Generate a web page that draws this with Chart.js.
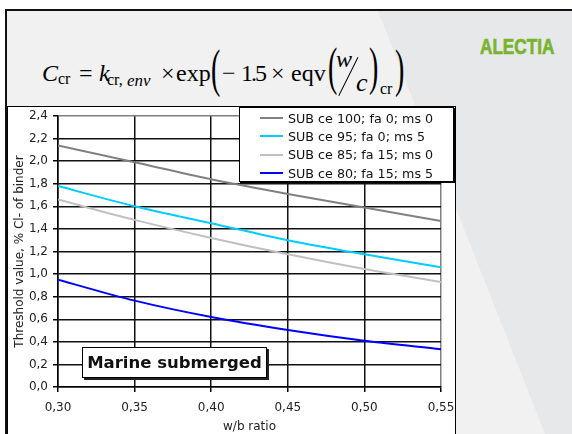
<!DOCTYPE html>
<html>
<head>
<meta charset="utf-8">
<script src="https://cdn.jsdelivr.net/npm/chart.js@4/dist/chart.umd.min.js"></script>
<style>
  html, body { margin: 0; padding: 0; }
  body { width: 572px; height: 434px; position: relative; overflow: hidden; background: #fff; font-family: "DejaVu Sans", Verdana, sans-serif; }
  #slide { position: absolute; left: 5px; top: 9px; right: 0; bottom: 0; background: #e7e8ea; border-left: 2px solid #111; border-top: 2px solid #111; }
  #light { position: absolute; left: 0; top: 0; width: 100%; height: 100%; background: #f1f1f2; clip-path: polygon(0 0, 371px 0, 538px 423px, 0 423px); }
  .f { position: absolute; font-family: "Liberation Serif", "Times New Roman", serif; line-height: 1; white-space: pre; color: #000; }
  .i { font-style: italic; }
  .p { font-size: 28px; transform: scaleY(1.9); transform-origin: left top; }
  #slash { position: absolute; left: 347.9px; top: 54.75px; width: 1.2px; height: 42.5px; background: #000; transform: rotate(26.6deg); }
  #logo { position: absolute; left: 480px; top: 36px; font: bold 22px "Liberation Sans", Arial, sans-serif; line-height: 1; color: #79b42e; transform: scaleX(0.78); transform-origin: left top; -webkit-text-stroke: 0.7px #79b42e; }
  #box { position: absolute; left: 7px; top: 106px; width: 447px; height: 340px; background: #fff; border: 1.5px solid #000; }
  #chart { position: absolute; left: 0; top: 0; }
  #legend { position: absolute; left: 239px; top: 107px; width: 213px; height: 72px; background: #fff; border: 1px solid #000; box-shadow: 1px 1px 0 #000; font-size: 12.7px; color: #111; padding-top: 1px; }
  .row { height: 18.3px; display: flex; align-items: center; white-space: nowrap; }
  .swatch { display: inline-block; width: 23px; height: 2px; margin-left: 20px; margin-right: 5px; }
  #note { position: absolute; left: 82px; top: 347px; width: 183px; height: 29px; border: 1px solid #000; background: #fff; box-shadow: 2px 2px 0 #222; font: bold 16.5px "DejaVu Sans", Verdana, sans-serif; line-height: 29px; text-align: center; color: #111; white-space: nowrap; }
</style>
</head>
<body>
<div id="slide"><div id="light"></div></div>

<!-- formula -->
<span class="f i" style="left:42px;top:61.4px;font-size:24px">C</span>
<span class="f" style="left:58px;top:70.6px;font-size:16px">cr</span>
<span class="f" style="left:79px;top:61.4px;font-size:24px">=</span>
<span class="f i" style="left:99px;top:61.4px;font-size:24px">k</span>
<span class="f" style="left:107px;top:71.6px;font-size:16px">cr,</span>
<span class="f i" style="left:127px;top:71.6px;font-size:17px">env</span>
<span class="f" style="left:161px;top:61.4px;font-size:24px">×</span>
<span class="f" style="left:176px;top:61.4px;font-size:24px">exp</span>
<span class="f p" style="left:211px;top:42.4px">(</span>
<span class="f" style="left:222px;top:61.4px;font-size:24px">−</span>
<span class="f" style="left:241px;top:61.4px;font-size:24px;letter-spacing:-2px">1.5</span>
<span class="f" style="left:271px;top:61.4px;font-size:24px">×</span>
<span class="f" style="left:291px;top:61.4px;font-size:24px">eqv</span>
<span class="f p" style="left:328px;top:40.4px">(</span>
<span class="f i" style="left:336px;top:46.6px;font-size:24px">w</span>
<div id="slash"></div>
<span class="f i" style="left:356px;top:70.2px;font-size:26px">c</span>
<span class="f p" style="left:369px;top:40.4px">)</span>
<span class="f" style="left:380px;top:80.6px;font-size:16px">cr</span>
<span class="f p" style="left:395px;top:42.4px">)</span>

<div id="logo">ALECTIA</div>

<div id="box"></div>
<canvas id="chart" width="572" height="434"></canvas>
<div id="legend"></div>
<div id="note">Marine submerged</div>

<script>
// w/b ratio on the x axis
const wbRatio = [0.30, 0.35, 0.40, 0.45, 0.50, 0.55];

// threshold values, % Cl- of binder
const ce100 = [2.14, 1.99, 1.84, 1.71, 1.59, 1.47];
const ce95 = [1.78, 1.60, 1.45, 1.30, 1.175, 1.06];
const ce85 = [1.66, 1.48, 1.32, 1.175, 1.045, 0.93];
const ce80 = [0.95, 0.765, 0.62, 0.505, 0.41, 0.335];

const seriesNames = [
    "SUB ce 100; fa 0; ms 0",
    "SUB ce 95; fa 0; ms 5",
    "SUB ce 85; fa 15; ms 0",
    "SUB ce 80; fa 15; ms 5",
];
const seriesValues = [ce100, ce95, ce85, ce80];
const seriesColors = ["#808080", "#00ccff", "#c0c0c0", "#0000ff"];

const datasets = seriesValues.map((vals, i) => ({
    label: seriesNames[i],
    data: vals.map((v, j) => ({ x: wbRatio[j], y: v })),
    borderColor: seriesColors[i],
    backgroundColor: seriesColors[i],
    borderWidth: 2,
    pointRadius: 0,
    cubicInterpolationMode: "monotone",
    fill: false,
}));

// legend box like the original (drawn in html so it can have a frame)
const legend = document.getElementById("legend");
seriesNames.forEach((name, i) => {
    const row = document.createElement("div");
    row.className = "row";
    const sw = document.createElement("span");
    sw.className = "swatch";
    sw.style.background = seriesColors[i];
    row.appendChild(sw);
    row.appendChild(document.createTextNode(name));
    legend.appendChild(row);
});

const near = (a, b) => Math.abs(a - b) < 1e-6;
const fontTick = { family: "'DejaVu Sans', Verdana, sans-serif", size: 12 };

new Chart(document.getElementById("chart"), {
    type: "line",
    data: { datasets: datasets },
    options: {
        responsive: false,
        animation: false,
        layout: { padding: { left: 8, right: 131, top: 116, bottom: 0 } },
        plugins: {
            legend: { display: false },
            tooltip: { enabled: false },
        },
        scales: {
            x: {
                type: "linear",
                min: 0.3,
                max: 0.55,
                afterFit: (scale) => { scale.height = 47; },
                ticks: {
                    stepSize: 0.05,
                    padding: 9,
                    color: "#222",
                    font: fontTick,
                    callback: (v) => v.toFixed(2).replace(".", ","),
                },
                grid: {
                    color: (ctx) => (ctx.tick && near(ctx.tick.value, 0.55) ? "#808080" : "#111"),
                    lineWidth: 1.5,
                    tickLength: 5,
                    tickColor: "#000",
                },
                border: { color: "#000", width: 1.5 },
                title: {
                    display: true,
                    text: "w/b ratio",
                    color: "#222",
                    font: fontTick,
                    padding: { top: 0, bottom: 0 },
                },
            },
            y: {
                min: 0,
                max: 2.4,
                afterFit: (scale) => { scale.width = 50; },
                ticks: {
                    stepSize: 0.2,
                    padding: 5,
                    color: "#222",
                    font: fontTick,
                    callback: (v) => v.toFixed(1).replace(".", ","),
                },
                grid: {
                    color: (ctx) => (ctx.tick && near(ctx.tick.value, 2.4) ? "#808080" : "#111"),
                    lineWidth: 1.5,
                    tickLength: 5,
                    tickColor: "#000",
                },
                border: { color: "#000", width: 1.5 },
                title: {
                    display: true,
                    text: "Threshold value, % Cl- of binder",
                    color: "#222",
                    font: fontTick,
                    padding: { top: 5, bottom: 0 },
                },
            },
        },
    },
});
</script>
</body>
</html>
